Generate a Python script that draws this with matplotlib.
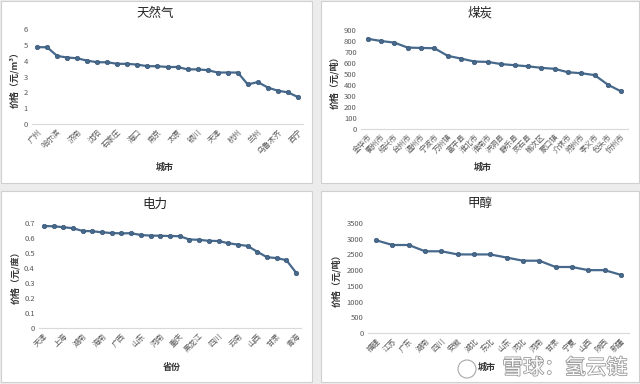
import matplotlib
matplotlib.use("Agg")
import matplotlib.pyplot as plt
import matplotlib.patheffects as pe
from matplotlib.patches import Rectangle, Ellipse
import numpy as np

plt.rcParams['font.family'] = ['Noto Sans CJK SC', 'DejaVu Sans']

# ---- data ----
gas_labels = ["广州", "哈尔滨", "济南", "沈阳", "石家庄", "海口", "南京",
              "太原", "银川", "天津", "杭州", "兰州", "乌鲁木齐", "西宁"]
gas_values = [4.85, 4.85, 4.3, 4.2, 4.15, 4.0, 3.9, 3.9, 3.8, 3.8, 3.75, 3.65, 3.65, 3.6,
              3.6, 3.45, 3.45, 3.4, 3.25, 3.25, 3.25, 2.5, 2.65, 2.3, 2.1, 2.0, 1.7]

coal_labels = ["金华市", "衢州市", "绍兴市", "台州市", "温州市", "宁波市", "万州镇",
               "富平县", "淮北市", "淮南市", "洪洞县", "静乐县", "灵石县", "榆次区",
               "蒙口镇", "介休市", "朔州市", "孝义市", "包头市", "忻州市"]
coal_values = [820, 800, 785, 740, 737, 734, 665, 640, 613, 610, 590, 580, 570, 556,
               547, 516, 507, 490, 402, 341]

power_labels = ["天津", "上海", "湖南", "海南", "广西", "山东", "河南",
                "重庆", "黑龙江", "四川", "云南", "山西", "甘肃", "青海"]
power_values = [0.68, 0.678, 0.672, 0.665, 0.647, 0.645, 0.638, 0.633, 0.631, 0.632,
                0.62, 0.616, 0.615, 0.613, 0.612, 0.59, 0.588, 0.581, 0.58, 0.565,
                0.556, 0.547, 0.508, 0.472, 0.466, 0.452, 0.368]

meth_labels = ["福建", "江苏", "广东", "湖南", "四川", "安徽", "湖北", "东北",
               "山东", "河北", "河南", "甘肃", "宁夏", "山西", "陕西", "新疆"]
meth_values = [2950, 2800, 2800, 2600, 2600, 2500, 2500, 2500, 2400, 2300, 2300,
               2100, 2100, 2000, 2000, 1850]

W, H = 640, 384
fig = plt.figure(figsize=(6.4, 3.84), dpi=100)
fig.patch.set_facecolor('#ececec')

def px_rect(x0, y0, x1, y1):
    return [x0 / W, 1 - y1 / H, (x1 - x0) / W, (y1 - y0) / H]

# panel cards
for (x0, y0, x1, y1) in [(1, 1, 312, 183), (321, 1, 639, 183),
                         (1, 191, 312, 382), (321, 191, 639, 382)]:
    fig.patches.append(Rectangle((x0 / W, 1 - y1 / H), (x1 - x0) / W, (y1 - y0) / H,
                                 transform=fig.transFigure, facecolor='white',
                                 edgecolor='#d0d0d0', linewidth=0.8, zorder=-5))

LINE = '#46698c'
TICKC = '#595959'

def panel(ax_px, n, values, labels, step, ymax, ystep, fmt):
    ax = fig.add_axes(px_rect(*ax_px))
    ax.set_zorder(3)
    ax.set_facecolor('none')
    x = np.arange(n)
    ax.plot(x, values, color=LINE, lw=1.6, marker='o', ms=3.2,
            markerfacecolor=LINE, markeredgecolor='#3a5878', markeredgewidth=0.5,
            zorder=3, clip_on=False)
    ax.set_xlim(-0.5, n - 0.5)
    ax.set_ylim(0, ymax)
    yt = np.arange(0, ymax + ystep / 2, ystep)
    ax.set_yticks(yt)
    ax.set_yticklabels([fmt(v) for v in yt], fontsize=5.5, color=TICKC)
    ax.set_xticks(x[::step])
    ax.set_xticklabels(labels, rotation=45, ha='right', rotation_mode='anchor',
                       fontsize=5.5, color=TICKC)
    for s in ['top', 'right', 'left']:
        ax.spines[s].set_visible(False)
    ax.spines['bottom'].set_color('#d9d9d9')
    ax.spines['bottom'].set_linewidth(0.8)
    ax.tick_params(axis='both', length=0, pad=3)
    return ax

def fmt_int(v):
    return str(int(round(v)))

def fmt_dec(v):
    return "0" if abs(v) < 1e-9 else f"{v:.1f}"

panel((32, 29, 303, 124), len(gas_values), gas_values, gas_labels, 2, 6, 1, fmt_int)
panel((361, 30, 628, 129), len(coal_values), coal_values, coal_labels, 1, 900, 100, fmt_int)
panel((39, 223, 301, 328), len(power_values), power_values, power_labels, 2, 0.7, 0.1, fmt_dec)
panel((368, 223, 629, 333), len(meth_values), meth_values, meth_labels, 1, 3500, 500, fmt_int)

def ftext(xp, yp, s, **kw):
    return fig.text(xp / W, 1 - yp / H, s, ha='center', va='center', **kw)

TITLEC = '#222222'
ftext(155, 13, "天然气", fontsize=9, color=TITLEC, fontweight='medium')
ftext(480, 13, "煤炭", fontsize=9, color=TITLEC, fontweight='medium')
ftext(155, 204, "电力", fontsize=9, color=TITLEC, fontweight='medium')
ftext(480, 204, "甲醇", fontsize=9, color=TITLEC, fontweight='medium')

LABC = '#333333'
ftext(165, 167, "城市", fontsize=6.5, fontweight='bold', color=LABC)
ftext(483, 167, "城市", fontsize=6.5, fontweight='bold', color=LABC)
ftext(172, 367, "省份", fontsize=6.5, fontweight='bold', color=LABC)
ftext(487, 367, "城市", fontsize=6.5, fontweight='bold', color=LABC)

ftext(15, 77, "价格（元/m³）", fontsize=6.5, fontweight='bold', color=LABC, rotation=90)
ftext(335, 80, "价格（元/吨）", fontsize=6.5, fontweight='bold', color=LABC, rotation=90)
ftext(16, 275, "价格（元/度）", fontsize=6.5, fontweight='bold', color=LABC, rotation=90)
ftext(337, 278, "价格（元/吨）", fontsize=6.5, fontweight='bold', color=LABC, rotation=90)

# watermark
fig.patches.append(Ellipse((467 / W, 1 - 369 / H), 18 / W, 18 / H, transform=fig.transFigure,
                           facecolor='none', edgecolor='#a8a8a8', linewidth=0.8, zorder=5))
wm = ftext(565, 368, "雪球：氢云链", fontsize=15, color='white', zorder=6)
wm.set_path_effects([pe.withStroke(linewidth=1.2, foreground='#9a9a9a')])

fig.savefig("out.png", dpi=100, facecolor=fig.get_facecolor())
